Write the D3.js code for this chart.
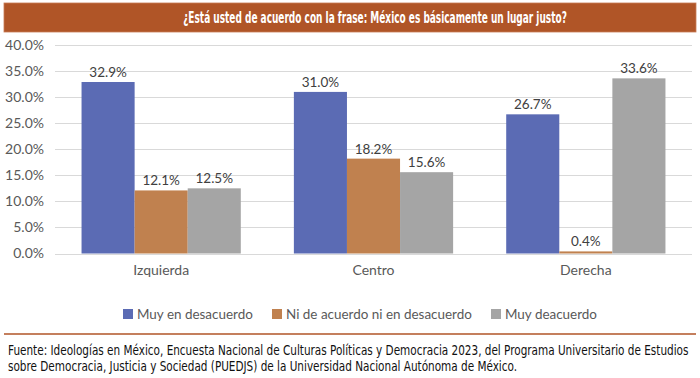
<!DOCTYPE html>
<html><head><meta charset="utf-8">
<script src="https://cdn.jsdelivr.net/npm/d3@7"></script>
<style>html,body{margin:0;padding:0;background:#fff;}svg{display:block;}</style>
</head><body>
<svg id="c" width="700" height="378"></svg>
<script>
const title = "¿Está usted de acuerdo con la frase: México es básicamente un lugar justo?";
const categories = ["Izquierda", "Centro", "Derecha"];
const seriesNames = ["Muy en desacuerdo", "Ni de acuerdo ni en desacuerdo", "Muy deacuerdo"];
const muyEnDesacuerdo = [32.9, 31.0, 26.7];
const niDeAcuerdo = [12.1, 18.2, 0.4];
const muyDeacuerdo = [12.5, 15.6, 33.6];
const yTicks = [0, 5, 10, 15, 20, 25, 30, 35, 40];
const colors = ["#5B6BB4", "#C0814F", "#A5A5A5"];
const footer = [
  "Fuente: Ideologías en México, Encuesta Nacional de Culturas Políticas y Democracia 2023, del Programa Universitario de Estudios",
  "sobre Democracia, Justicia y Sociedad (PUEDJS) de la Universidad Nacional Autónoma de México."
];
const seriesValues = [muyEnDesacuerdo, niDeAcuerdo, muyDeacuerdo];

const svg = d3.select("#c");
const bodyFont = "Lato, 'Open Sans', sans-serif";
const condFont = "'Liberation Sans Narrow', 'DejaVu Sans Condensed', 'Roboto Condensed', sans-serif";

// fit a text's font-size so its width matches a target
function fitWidth(sel, target) {
  sel.each(function() {
    const el = this;
    const fs = parseFloat(el.getAttribute("font-size"));
    const w = el.getComputedTextLength();
    if (w > 0) el.setAttribute("font-size", (fs * target / w).toFixed(2));
  });
}
// horizontally compress a text (anchored at ax) so its width matches a target
function squeeze(el, target, ax, ay) {
  const w = el.getComputedTextLength();
  const s = Math.min(1, target / w);
  el.setAttribute("transform", `translate(${ax},${ay}) scale(${s.toFixed(4)},1)`);
  return s;
}

// Title banner
svg.append("rect").attr("x", 4).attr("y", 3).attr("width", 692).attr("height", 29)
  .attr("fill", "#B05527").attr("stroke", "#C97A55").attr("stroke-width", 0.8);
const t = svg.append("text").attr("x", 0).attr("y", 0).attr("text-anchor", "middle")
  .attr("fill", "#fff").attr("font-family", condFont).attr("font-weight", "bold")
  .attr("font-size", 16.5).text(title);
squeeze(t.node(), 384, 375, 23);

// Scales
const plot = {left: 55, right: 692, top: 45, bottom: 253.5};
const x = d3.scaleBand().domain(categories).range([plot.left, plot.right]).paddingInner(0).paddingOuter(0);
const groupW = x.bandwidth() * 0.75;
const x1 = d3.scaleBand().domain(d3.range(seriesNames.length)).range([0, groupW]);
const y = d3.scaleLinear().domain([0, 40]).range([plot.bottom, plot.top]);

// Gridlines
svg.append("g").selectAll("line").data(yTicks).join("line")
  .attr("x1", plot.left).attr("x2", plot.right)
  .attr("y1", d => Math.round(y(d)) + 0.5).attr("y2", d => Math.round(y(d)) + 0.5)
  .attr("stroke", "#D9D9D9").attr("stroke-width", 1);

// Y axis labels
const yAxis = d3.axisLeft(y).tickValues(yTicks).tickFormat(d => d.toFixed(1) + "%").tickSize(0).tickPadding(0);
const ya = svg.append("g").attr("transform", `translate(${plot.left - 11},0)`).call(yAxis);
ya.select(".domain").remove();
ya.selectAll("text").attr("font-family", bodyFont).attr("font-size", 14).attr("fill", "#595959");

// Bars
const groups = svg.append("g").selectAll("g").data(categories).join("g")
  .attr("transform", c => `translate(${x(c) + (x.bandwidth() - groupW) / 2},0)`);
groups.selectAll("rect").data((c, i) => seriesValues.map((s, j) => ({j, v: s[i]}))).join("rect")
  .attr("x", d => x1(d.j)).attr("width", x1.bandwidth())
  .attr("y", d => y(d.v)).attr("height", d => y(0) - y(d.v))
  .attr("fill", d => colors[d.j]);
groups.selectAll("text").data((c, i) => seriesValues.map((s, j) => ({j, v: s[i]}))).join("text")
  .attr("x", d => x1(d.j) + x1.bandwidth() / 2).attr("y", d => y(d.v) - 5)
  .attr("text-anchor", "middle").attr("font-family", bodyFont).attr("font-size", 13.5)
  .attr("fill", "#404040").text(d => d.v.toFixed(1) + "%");

// X axis labels
const xAxis = d3.axisBottom(x).tickSize(0).tickPadding(0);
const xa = svg.append("g").attr("transform", `translate(0,${plot.bottom + 12})`).call(xAxis);
xa.select(".domain").remove();
xa.selectAll("text").attr("font-family", bodyFont).attr("font-size", 14).attr("fill", "#595959");

// Legend
const legendX = [123, 272, 491];
const lg = svg.append("g").selectAll("g").data(seriesNames).join("g")
  .attr("transform", (d, i) => `translate(${legendX[i]},309)`);
lg.append("rect").attr("width", 10).attr("height", 10).attr("fill", (d, i) => colors[i]);
const lt = lg.append("text").attr("x", 14).attr("y", 10).attr("font-family", bodyFont).attr("font-size", 15)
  .attr("fill", "#595959").text(d => d);
fitWidth(lt.filter((d, i) => i === 1), 186);
const lfs = lt.filter((d, i) => i === 1).attr("font-size");
lt.attr("font-size", lfs);

// Footer
svg.append("line").attr("x1", 4).attr("x2", 696).attr("y1", 334).attr("y2", 334)
  .attr("stroke", "#B05527").attr("stroke-width", 1.5);
const ft = svg.append("g").selectAll("text").data(footer).join("text")
  .attr("x", 0).attr("y", 0)
  .attr("font-family", condFont).attr("font-size", 13.5).attr("fill", "#111")
  .text(d => d);
const fs0 = squeeze(ft.nodes()[0], 681, 8, 355);
ft.nodes()[1].setAttribute("transform", `translate(8,371) scale(${fs0.toFixed(4)},1)`);
</script>
</body></html>
